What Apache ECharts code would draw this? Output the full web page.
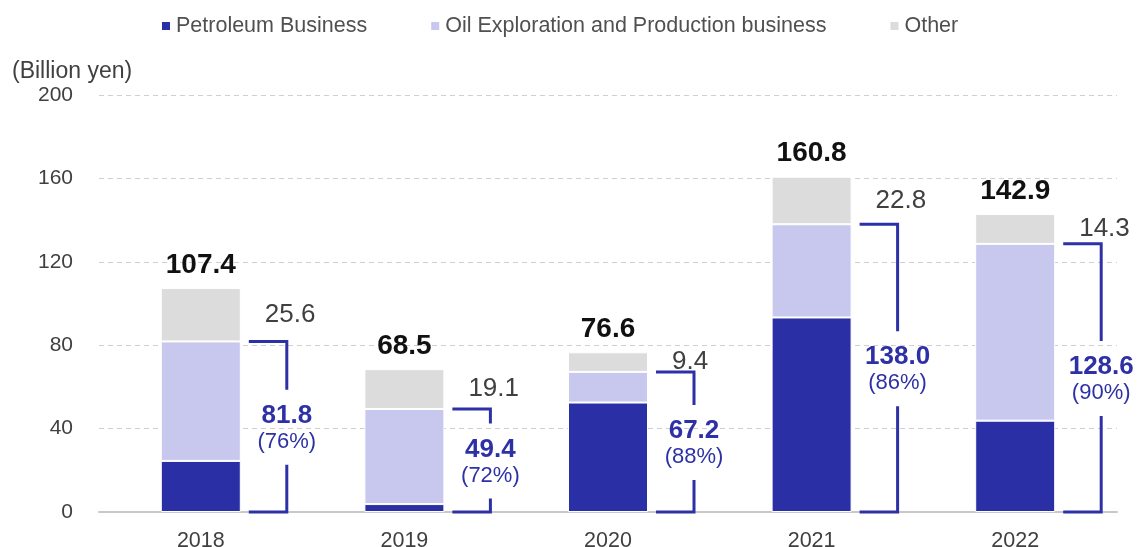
<!DOCTYPE html>
<html><head><meta charset="utf-8">
<script src="https://cdn.jsdelivr.net/npm/echarts@6/dist/echarts.min.js"></script>
<style>html,body{margin:0;padding:0;background:#fff}#c{width:1142px;height:547px}</style>
</head><body><div id="c"></div>
<script>
const categories = ['2018', '2019', '2020', '2021', '2022'];
const petroleum = [24.5, 3.8, 52.5, 93.3, 43.8];
const oilEP = [57.3, 45.6, 14.7, 44.7, 84.8];
const other = [25.6, 19.1, 9.4, 22.8, 14.3];
const totals = [107.4, 68.5, 76.6, 160.8, 142.9];
const energySum = [81.8, 49.4, 67.2, 138.0, 128.6];
const energyShare = ['76%', '72%', '88%', '86%', '90%'];
const yTicks = [0, 40, 80, 120, 160, 200];

const FONT = 'Liberation Sans, Arial, sans-serif';
const BLUE = '#2E31A6';
const chart = echarts.init(document.getElementById('c'));

const bracketData = categories.map((c, i) => [i, energySum[i], totals[i], energyShare[i]]);

chart.setOption({
  animation: false,
  textStyle: { fontFamily: FONT },
  legend: {
    top: 10, left: 155,
    icon: 'rect', itemWidth: 10, itemHeight: 10, itemGap: 62,
    textStyle: { fontSize: 21.5, color: '#505050', fontFamily: FONT },
    data: ['Petroleum Business', 'Oil Exploration and Production business', 'Other']
  },
  graphic: [{
    type: 'text', left: 12, top: 60,
    style: { text: '(Billion yen)', fontSize: 23, fill: '#404040', fontFamily: FONT }
  }],
  grid: { left: 99, right: 25, top: 95, bottom: 35, containLabel: false, outerBoundsMode: 'none' },
  xAxis: {
    type: 'category', data: categories,
    axisTick: { show: false },
    axisLine: { lineStyle: { color: '#C8C8C8', width: 2 } },
    axisLabel: { fontSize: 21.5, color: '#404040', margin: 18, fontFamily: FONT }
  },
  yAxis: {
    type: 'value', min: yTicks[0], max: yTicks[yTicks.length - 1], interval: 40,
    axisLine: { show: false }, axisTick: { show: false },
    axisLabel: { fontSize: 21, color: '#404040', margin: 26, fontFamily: FONT },
    splitLine: { lineStyle: { color: '#CFCFCF', type: [5, 4], width: 1 } }
  },
  series: [
    { name: 'Petroleum Business', type: 'bar', stack: 't', barWidth: 80, data: petroleum,
      itemStyle: { color: '#2B2FA6', borderColor: '#fff', borderWidth: 1 } },
    { name: 'Oil Exploration and Production business', type: 'bar', stack: 't', data: oilEP,
      itemStyle: { color: '#C8C8EE', borderColor: '#fff', borderWidth: 1 } },
    { name: 'Other', type: 'bar', stack: 't', data: other,
      itemStyle: { color: '#DCDCDC', borderColor: '#fff', borderWidth: 1 },
      label: { show: true, position: 'right', distance: 24, fontSize: 26, color: '#404040', fontFamily: FONT } },
    { type: 'custom', data: bracketData, clip: false, z: 10,
      renderItem: function (params, api) {
        const i = api.value(0);
        const base = api.coord([i, 0]);
        const top = api.coord([i, api.value(1)]);
        const tot = api.coord([i, api.value(2)]);
        const x0 = base[0] + 48, xv = base[0] + 86;
        const mid = (top[1] + base[1]) / 2;
        const ls = { stroke: BLUE, lineWidth: 3, fill: null };
        return { type: 'group', children: [
          { type: 'polyline', shape: { points: [[x0, top[1]], [xv, top[1]], [xv, mid - 37]] }, style: ls },
          { type: 'polyline', shape: { points: [[xv, mid + 38], [xv, base[1]], [x0, base[1]]] }, style: ls },
          { type: 'text', x: xv, y: mid - 11, style: { text: energySum[i].toFixed(1), fontSize: 26, fontWeight: 'bold', fill: BLUE, align: 'center', verticalAlign: 'middle', fontFamily: FONT } },
          { type: 'text', x: xv, y: mid + 15, style: { text: '(' + api.value(3) + ')', fontSize: 22, fill: BLUE, align: 'center', verticalAlign: 'middle', fontFamily: FONT } },
          { type: 'text', x: base[0], y: tot[1] - 23, style: { text: totals[i].toFixed(1), fontSize: 28, fontWeight: 'bold', fill: '#111', align: 'center', verticalAlign: 'middle', fontFamily: FONT } }
        ] };
      }
    }
  ]
});
</script></body></html>
